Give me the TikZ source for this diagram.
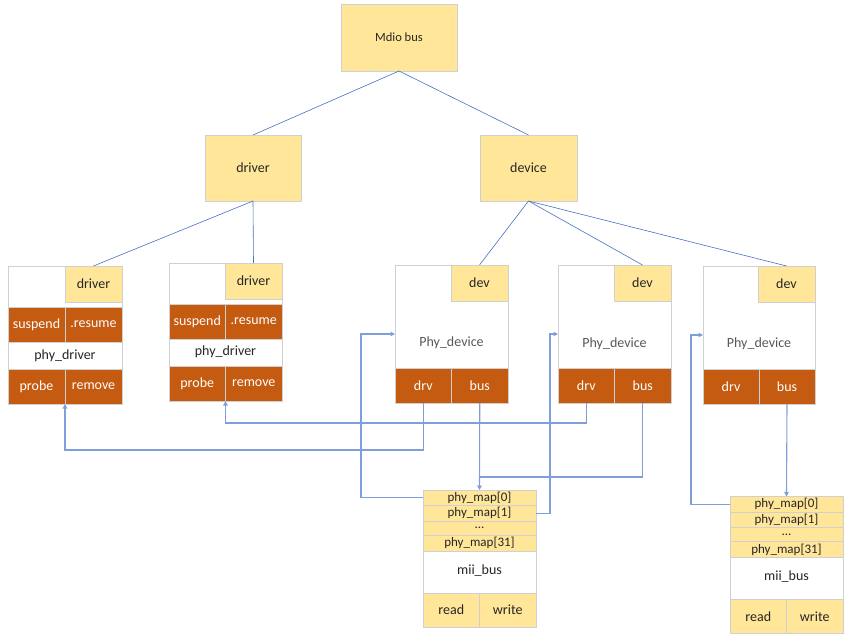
\documentclass[tikz,border=0pt]{standalone}
\usepackage{fontspec}
\setmainfont{Carlito}
\usetikzlibrary{positioning,arrows.meta}

\definecolor{boxyellow}{HTML}{FFE699}
\definecolor{boxorange}{HTML}{C55A11}
\definecolor{boxedge}{HTML}{D0D0D0}
\definecolor{treeblue}{HTML}{4472C4}
\definecolor{linkblue}{HTML}{7F9FDA}
\definecolor{txtdark}{HTML}{262626}
\definecolor{txtgray}{HTML}{595959}

\tikzset{
  yel/.style={draw=boxedge, line width=0.8pt, fill=boxyellow, text=txtdark, inner sep=0pt, outer sep=0pt},
  org/.style={draw=boxedge, line width=0.8pt, fill=boxorange, text=white, inner sep=0pt, outer sep=0pt,
    minimum width=56.5pt, minimum height=35pt},
  frame/.style={draw=boxedge, line width=0.8pt, fill=white, inner sep=0pt, outer sep=0pt,
    minimum width=113pt, minimum height=138pt},
  tab/.style={yel, minimum width=57pt, minimum height=36pt},
  maprow/.style={yel, minimum width=113pt, minimum height=15.5pt, font=\fontsize{13}{13}\selectfont},
  tree/.style={draw=treeblue, line width=0.6pt},
  link/.style={draw=linkblue, line width=1.1pt, -{Triangle[length=4.5pt,width=4.5pt]}},
  wire/.style={draw=linkblue, line width=1.1pt},
}

\begin{document}
\begin{tikzpicture}[x=1pt, y=-1pt, font=\fontsize{14}{16}\selectfont]
        \useasboundingbox (0,0) rectangle (846,639);

        % Top of the tree
        \node[yel, minimum width=116pt, minimum height=67pt, font=\fontsize{12.5}{14}\selectfont] (mdio) at (399,37.5) {Mdio bus};
        \node[yel, minimum width=96pt, minimum height=66pt] (drvtop) at (253,168) {driver};
        \node[yel, minimum width=97pt, minimum height=66pt] (devtop) at (528.5,168) {device};

        % Driver box 1
        \node[frame, minimum width=114pt] (drvbox1) at (65,335) {};
        \node[tab, anchor=north east] (drvtab1) at (drvbox1.north east) {driver};
        \node[org, minimum width=57pt, anchor=north west] (susp1) at ([yshift=-41pt]drvbox1.north west) {suspend};
        \node[org, minimum width=57pt, anchor=north east] (res1) at ([yshift=-41pt]drvbox1.north east) {.resume};
        \node[text=txtdark] (pdrv1) at (65,356) {phy\_driver};
        \node[org, minimum width=57pt, anchor=south west] (prb1) at (drvbox1.south west) {probe};
        \node[org, minimum width=57pt, anchor=south east] (rem1) at (drvbox1.south east) {remove};

        % Driver box 2
        \node[frame] (drvbox2) at (225.5,332) {};
        \node[tab, anchor=north east] (drvtab2) at (drvbox2.north east) {driver};
        \node[org, anchor=north west] (susp2) at ([yshift=-41pt]drvbox2.north west) {suspend};
        \node[org, anchor=north east] (res2) at ([yshift=-41pt]drvbox2.north east) {.resume};
        \node[text=txtdark] (pdrv2) at (225.5,352) {phy\_driver};
        \node[org, anchor=south west] (prb2) at (drvbox2.south west) {probe};
        \node[org, anchor=south east] (rem2) at (drvbox2.south east) {remove};

        % Device boxes
        \node[frame] (dev1) at (451.5,334) {};
        \node[tab, anchor=north east] (tab1) at (dev1.north east) {dev};
        \node[text=txtgray] (pdev1) at (451.5,343) {Phy\_device};
        \node[org, anchor=south west] (drv1) at (dev1.south west) {drv};
        \node[org, anchor=south east] (bus1) at (dev1.south east) {bus};

        \node[frame] (dev2) at (614.5,334) {};
        \node[tab, anchor=north east] (tab2) at (dev2.north east) {dev};
        \node[text=txtgray] (pdev2) at (614.5,344) {Phy\_device};
        \node[org, anchor=south west] (drv2) at (dev2.south west) {drv};
        \node[org, anchor=south east] (bus2) at (dev2.south east) {bus};

        \node[frame, minimum width=112pt] (dev3) at (759,335) {};
        \node[tab, anchor=north east] (tab3) at (dev3.north east) {dev};
        \node[text=txtgray] (pdev3) at (759,344) {Phy\_device};
        \node[org, minimum width=56pt, anchor=south west] (drv3) at (dev3.south west) {drv};
        \node[org, minimum width=56pt, anchor=south east] (bus3) at (dev3.south east) {bus};

        % mii_bus 1
        \node[frame, minimum height=137pt] (mii1) at (479.5,558.5) {};
        \node[maprow, anchor=north] (mapa1) at (mii1.north) {phy\_map[0]};
        \node[maprow, below=0pt of mapa1] (mapb1) {phy\_map[1]};
        \node[maprow, minimum height=14pt, below=0pt of mapb1] (mapc1) {...};
        \node[maprow, minimum height=16pt, below=0pt of mapc1] (mapd1) {phy\_map[31]};
        \node[text=txtdark] (mlab1) at (479.5,571) {mii\_bus};
        \node[yel, minimum width=56.5pt, minimum height=34pt, anchor=south west] (rd1) at (mii1.south west) {read};
        \node[yel, minimum width=56.5pt, minimum height=34pt, anchor=south east] (wr1) at (mii1.south east) {write};

        % mii_bus 2
        \node[frame, minimum height=137pt] (mii2) at (786.5,565) {};
        \node[maprow, anchor=north] (mapa2) at (mii2.north) {phy\_map[0]};
        \node[maprow, below=0pt of mapa2] (mapb2) {phy\_map[1]};
        \node[maprow, minimum height=14pt, below=0pt of mapb2] (mapc2) {...};
        \node[maprow, minimum height=16pt, below=0pt of mapc2] (mapd2) {phy\_map[31]};
        \node[text=txtdark] (mlab2) at (786.5,577) {mii\_bus};
        \node[yel, minimum width=56.5pt, minimum height=34pt, anchor=south west] (rd2) at (mii2.south west) {read};
        \node[yel, minimum width=56.5pt, minimum height=34pt, anchor=south east] (wr2) at (mii2.south east) {write};

        % Tree lines
        \draw[tree] (mdio.south) -- (drvtop.north);
        \draw[tree] (mdio.south) -- (devtop.north);
        \draw[tree] (drvtop.south) -- (drvtab1.north);
        \draw[tree] (drvtop.south) -- (drvtab2.north);
        \draw[tree] (devtop.south) -- (tab1.north);
        \draw[tree] (devtop.south) -- (tab2.north);
        \draw[tree] (devtop.south) -- (tab3.north);

        % drv -> phy_driver
        \draw[link] (drv1.south) -- ++(0,47) -| (drvbox1.south);
        \draw[link] (drv2.south) -- ++(0,20) -| (drvbox2.south);

        % bus -> mii_bus
        \draw[link] (bus1.south) -- (mii1.north);
        \draw[wire] (bus2.south) |- ([yshift=13pt]mii1.north);
        \draw[link] (bus3.south) -- (mii2.north);

        % phy_map -> Phy_device
        \draw[link] (mapa1.west) -- ++(-62,0) |- (dev1.west);
        \draw[link] (mapb1.east) -- ++(14,0) |- (dev2.west);
        \draw[link] (mapa2.west) -- ++(-39,0) |- (dev3.west);
    \end{tikzpicture}
\end{document}
